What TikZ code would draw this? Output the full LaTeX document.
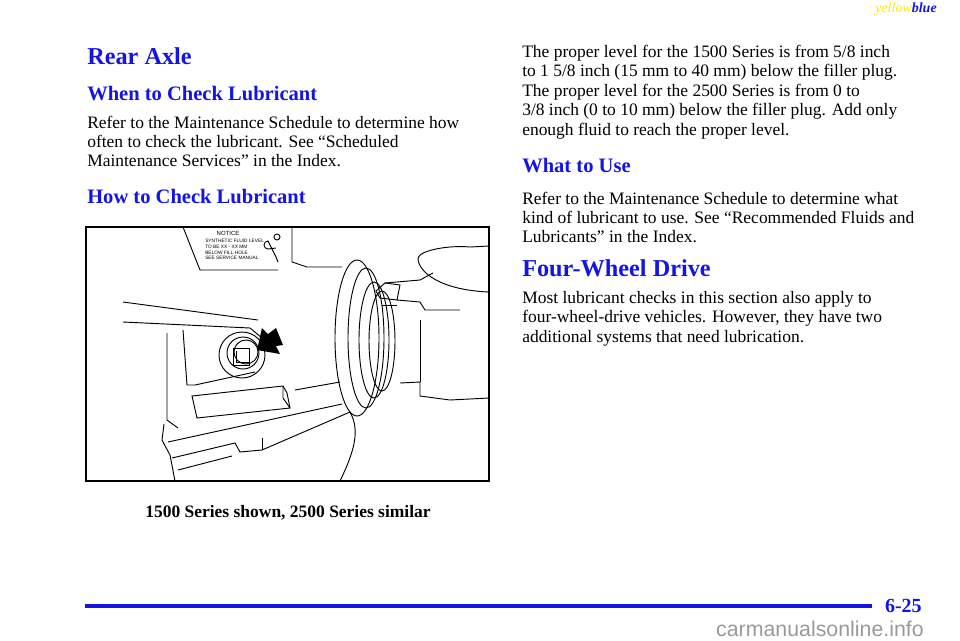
\documentclass[tikz,border=0pt]{standalone}
\usepackage{fontspec}
\setmainfont{Liberation Serif}
\newfontfamily\sansf{Liberation Sans}
\definecolor{hblue}{RGB}{20,20,230}
\definecolor{yel}{RGB}{255,235,0}
\begin{document}
\begin{tikzpicture}[x=0.75pt,y=-0.75pt,
  body/.style={anchor=base west,inner sep=0,font=\fontsize{13.1}{15}\selectfont},
  h1/.style={anchor=base west,inner sep=0,font=\fontsize{18.2}{20}\selectfont\bfseries,text=hblue},
  h2/.style={anchor=base west,inner sep=0,font=\fontsize{15.4}{17}\selectfont\bfseries,text=hblue},
  ln/.style={line width=0.7pt},
  tiny/.style={anchor=base west,inner sep=0,font=\sansf\fontsize{3.6}{4}\selectfont}]
\useasboundingbox (0,0) rectangle (960,640);
\node[anchor=base east,inner sep=0,font=\fontsize{10.5}{12}\selectfont\itshape] (yb) at (937,12) {\textcolor{yel}{yellow}\textcolor{hblue}{\bfseries blue}};
% left column
\node[h1] (t1) at (87,64) {Rear Axle};
\node[h2] (t2) at (87,100) {When to Check Lubricant};
\node[body] (l1) at (87,128) {Refer to the Maintenance Schedule to determine how};
\node[body] (l2) at (87,147) {often to check the lubricant. See “Scheduled};
\node[body] (l3) at (87,166) {Maintenance Services” in the Index.};
\node[h2] (t3) at (87,203) {How to Check Lubricant};
% right column
\node[body] (r1) at (522,57) {The proper level for the 1500 Series is from 5/8 inch};
\node[body] (r2) at (522,76.5) {to 1 5/8 inch (15 mm to 40 mm) below the filler plug.};
\node[body] (r3) at (522,96) {The proper level for the 2500 Series is from 0 to};
\node[body] (r4) at (522,115.5) {3/8 inch (0 to 10 mm) below the filler plug. Add only};
\node[body] (r5) at (522,135) {enough fluid to reach the proper level.};
\node[h2] (t4) at (522,172) {What to Use};
\node[body] (r6) at (522,204) {Refer to the Maintenance Schedule to determine what};
\node[body] (r7) at (522,223) {kind of lubricant to use. See “Recommended Fluids and};
\node[body] (r8) at (522,242) {Lubricants” in the Index.};
\node[h1] (t5) at (522,276) {Four-Wheel Drive};
\node[body] (r9) at (522,303) {Most lubricant checks in this section also apply to};
\node[body] (r10) at (522,322) {four-wheel-drive vehicles. However, they have two};
\node[body] (r11) at (522,342) {additional systems that need lubrication.};
% caption
\node[anchor=base,inner sep=0,font=\fontsize{13.1}{15}\selectfont\bfseries] (cap) at (288,517) {1500 Series shown, 2500 Series similar};
% footer
\draw[hblue,line width=2.3pt] (85,606) -- (872,606);
\node[anchor=base east,inner sep=0,font=\fontsize{15}{17}\selectfont\bfseries,text=hblue] (pg) at (922,612) {6-25};
\node[anchor=base east,inner sep=0,font=\sansf\fontsize{16}{18}\selectfont,text=gray!80] (wm) at (924,636) {carmanualsonline.info};
% illustration
\begin{scope}
\clip (86,227) rectangle (489,481);
\draw[ln] (183,227) -- (200,270) -- (278,270);
\draw[ln] (292,227) -- (292,262) -- (307,267) -- (342,267);
\draw[ln] (277,237) circle (3);
\draw[ln] (276,248) -- (268,249) arc (90:270:4) -- (276,257) -- (278,262);
\node[anchor=base,inner sep=0,font=\sansf\fontsize{4.5}{5}\selectfont] (nt) at (228,235) {NOTICE};
\node[tiny] (n1) at (205,242) {SYNTHETIC FLUID LEVEL};
\node[tiny] (n2) at (205,248) {TO BE XX - XX MM};
\node[tiny] (n3) at (205,254) {BELOW FILL HOLE};
\node[tiny] (n4) at (205,259) {SEE SERVICE MANUAL};
% housing lines
\draw[ln] (123,302) -- (258,320);
\draw[ln] (123,322) -- (250,328) -- (262,338);
\draw[ln] (167,333) -- (167,420) -- (178,428);
\draw[ln] (183,330) -- (187,385) -- (195,385) -- (255,372);
\draw[ln] (295,390) -- (340,382);
% plug
\draw[ln] (242,355) circle (23);
\draw[ln] (243,353) circle (16);
\draw[ln] (246,352) circle (12);
\draw[ln] (233,348) rectangle (249,365);
\draw[ln] (236,351) -- (236,362) -- (249,362);
\fill (257,350) -- (262,328) -- (268,334) -- (276,328) -- (283,345) -- (276,346) -- (280,354) -- cycle;
% block
\draw[ln] (192,396) -- (283,386) -- (287,393) -- (290,408) -- (197,418) -- cycle;
\draw[ln] (283,386) -- (283,398) -- (290,408);
% lower lines
\draw[ln] (164,424) -- (162,440) -- (170,455) -- (175,481);
\draw[ln] (168,442) -- (342,404);
\draw[ln] (172,458) -- (235,443) -- (240,452) -- (262,450) -- (350,412);
\draw[ln] (178,470) -- (232,456);
\draw[ln] (262,438) -- (262,450);
\draw[ln] (350,412) .. controls (360,430) and (355,450) .. (340,481);
% flange
\draw[ln] (357,338) ellipse (22 and 78);
\draw[ln] (366,338) ellipse (18 and 70);
\draw[ln] (374,340) ellipse (15 and 58);
\draw[ln] (382,341) ellipse (13 and 50);
% right side
\draw[ln] (376,291) -- (385,283) -- (400,285) -- (397,300) -- (380,298) -- cycle;
\draw[ln] (385,283) -- (420,280) -- (433,273);
\draw[ln] (397,300) -- (420,302) -- (425,310) -- (460,310);
\draw[ln] (382,305) -- (397,305);
\draw[ln] (418,258) .. controls (420,250) and (450,245) .. (470,247) -- (489,246);
\draw[ln] (418,258) .. controls (418,272) and (440,290) .. (489,292);
\draw[ln] (400,383) -- (420,382) -- (420,396) -- (450,400) -- (489,398);
\draw[ln] (420,320) -- (420,382);
\end{scope}
\draw[line width=1.6pt] (86,227) rectangle (489,481);
\end{tikzpicture}
\end{document}
